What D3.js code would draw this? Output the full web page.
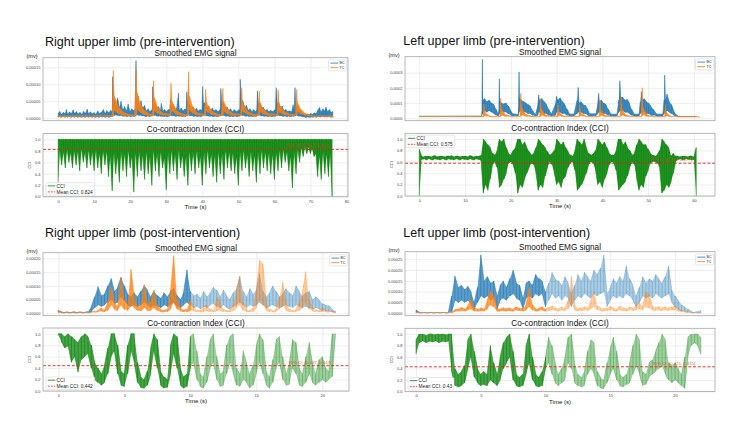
<!DOCTYPE html>
<html>
<head>
<meta charset="utf-8">
<script src="https://cdn.jsdelivr.net/npm/d3@7"></script>
<style>
body { margin: 0; background: #fff; }
svg text { font-family: "Liberation Sans", Arial, sans-serif; }
</style>
</head>
<body>
<div id="chart"></div>
<script>
// EMG amplitudes are in units of 1e-5 mV.
// Pre-intervention series are rows [time, low, high]; post-intervention series are [low, high] bins on a time array.

// ---------- right upper limb, pre-intervention ----------
const bcPreR = [
  [0,0.3,1.5],[0.5,0.4,2.0],[1,0.3,1.2],[1.5,0.4,1.8],[2,0.3,1.4],[2.3,0.4,2.6],[2.7,0.3,1.3],[3.2,0.4,1.9],[3.7,0.3,1.4],
  [4.2,0.4,2.5],[4.6,0.3,1.5],[5.1,0.4,2.0],[5.6,0.3,1.3],[6.1,0.4,1.8],[6.6,0.3,1.2],[7.1,0.4,2.1],[7.6,0.3,1.5],[8.1,0.4,2.7],
  [8.5,0.3,1.4],[9,0.4,1.9],[9.5,0.3,1.3],[10,0.4,1.7],[10.5,0.3,1.2],[11,0.4,2.2],[11.5,0.3,1.4],[12,0.4,1.8],[12.5,0.4,2.6],
  [13,0.3,1.5],[13.5,0.4,2.3],[14,0.3,1.6],[14.5,0.4,2.4],
  [14.9,0.5,2.0],[15.1,0.8,12.2],[15.3,1.0,4.0],[15.7,0.8,5.8],[16.1,1.0,3.5],[16.5,0.8,6.0],[17,0.7,3.0],[17.4,0.8,5.0],
  [17.9,0.6,2.5],[18.4,0.6,3.5],[18.9,0.5,2.2],[19.4,0.6,4.2],[19.9,0.5,2.0],[20.4,0.5,2.8],[21,0.5,2.2],
  [21.4,0.6,3.0],[21.6,0.9,17.0],[21.8,1.0,5.0],[22.2,0.9,6.5],[22.6,0.8,3.5],[23.0,0.8,5.2],[23.5,0.7,3.0],[24,0.6,3.8],
  [24.5,0.5,2.2],[25,0.6,2.8],[25.5,0.5,2.0],
  [26.0,0.6,2.5],[26.2,0.8,9.3],[26.4,0.9,4.0],[26.8,0.8,4.5],[27.3,0.7,3.0],[27.8,0.6,3.5],[28.3,0.6,2.4],[28.6,0.6,4.4],
  [29,0.5,2.2],[29.5,0.5,2.6],[30,0.5,2.0],[30.5,0.5,2.6],
  [30.9,0.6,2.5],[31.1,0.8,5.5],[31.4,0.8,3.5],[31.9,0.7,4.0],[32.4,0.6,2.6],[32.9,0.6,3.0],[33.4,0.6,7.4],[33.7,0.6,2.5],
  [34.2,0.5,3.0],[34.7,0.5,2.2],[35.2,0.5,2.8],
  [35.5,0.6,2.5],[35.7,0.8,7.8],[36.0,0.9,4.5],[36.4,0.8,4.2],[36.9,0.7,3.0],[37.4,0.6,3.4],[37.9,0.6,2.4],[38.4,0.5,3.0],
  [38.9,0.5,2.2],[39.4,0.5,2.6],
  [39.9,0.6,2.5],[40.1,0.8,9.3],[40.4,0.9,4.5],[40.8,0.8,4.5],[41.3,0.7,3.0],[41.8,0.6,3.6],[42.3,0.6,2.4],[42.8,0.5,3.0],
  [43.3,0.5,2.2],[43.8,0.5,2.6],[44.4,0.5,2.0],
  [44.9,0.6,2.6],[45.1,0.8,8.8],[45.4,0.9,4.5],[45.8,0.8,4.6],[46.3,0.7,3.0],[46.8,0.6,3.4],[47.3,0.6,2.4],[47.8,0.5,2.8],
  [48.3,0.5,2.0],[48.8,0.5,2.6],[49.4,0.5,2.0],[49.9,0.5,2.4],
  [50.3,0.6,2.5],[50.5,0.8,11.5],[50.8,0.9,5.0],[51.2,0.8,5.2],[51.7,0.7,3.2],[52.2,0.6,3.8],[52.7,0.6,2.4],[53.2,0.5,2.8],
  [53.7,0.5,2.0],[54.2,0.5,2.6],[54.7,0.5,2.0],
  [55.1,0.6,2.6],[55.3,0.8,8.0],[55.6,0.9,4.2],[56,0.8,4.6],[56.5,0.7,3.0],[57,0.6,3.2],[57.5,0.6,2.3],[58,0.5,2.6],
  [58.5,0.5,2.0],[59,0.5,2.4],[59.6,0.5,2.0],[60.1,0.5,2.5],
  [60.3,0.6,2.6],[60.5,0.8,9.0],[60.8,0.9,4.5],[61.2,0.8,4.8],[61.7,0.7,3.0],[62.2,0.6,3.6],[62.7,0.6,2.3],[63.2,0.5,2.6],
  [63.7,0.5,2.0],[64.2,0.5,2.2],[64.8,0.5,2.0],[65.2,0.6,4.0],
  [65.5,0.6,2.5],[65.7,0.8,9.0],[66.0,0.9,4.0],[66.5,0.7,3.5],[67,0.6,2.5],[67.5,0.5,1.8],[68,0.4,1.5],[68.5,0.3,1.2],
  [69,0.3,1.3],[69.5,0.3,1.1],[70,0.3,1.4],[70.5,0.3,1.2],[71,0.4,1.6],[71.5,0.3,1.4],[72,0.4,2.4],[72.5,0.4,3.2],
  [73,0.4,2.0],[73.5,0.5,2.8],[74,0.4,2.2],[74.3,0.4,3.3],[74.8,0.4,2.0],[75.3,0.4,2.6],[75.8,0.3,1.8],[76.2,0.3,2.0]];
const tcPreR = [
  [0,0.4,0.7],[14.9,0.5,0.8],[15.3,0.6,14.0],[15.5,2.5,7.0],[16.0,2.0,5.5],[16.5,1.5,4.0],[17.0,1.2,3.0],[17.7,1.0,2.2],
  [18.5,0.8,1.6],[19.5,0.7,1.2],[21.2,0.7,1.0],
  [21.7,0.8,14.5],[21.9,2.8,7.5],[22.4,2.2,5.8],[22.9,1.6,4.2],[23.4,1.3,3.0],[24.1,1.0,2.2],[25,0.8,1.5],[26.1,0.8,1.2],
  [26.5,0.9,11.0],[26.7,2.5,6.0],[27.2,1.8,4.5],[27.7,1.4,3.2],[28.3,1.1,2.2],[29.2,0.9,1.5],[30.9,0.8,1.2],
  [31.3,0.9,10.3],[31.5,2.4,5.5],[32,1.8,4.2],[32.5,1.3,3.0],[33.2,1.0,2.0],[34.2,0.8,1.4],[35.8,0.8,1.2],
  [36.2,0.9,13.7],[36.4,2.6,6.5],[36.9,2.0,4.8],[37.4,1.5,3.4],[38.1,1.1,2.3],[39,0.9,1.5],[40.5,0.8,1.2],
  [40.9,0.9,8.5],[41.1,2.2,5.0],[41.6,1.7,3.8],[42.2,1.3,2.8],[42.9,1.0,1.9],[44,0.8,1.3],[45.3,0.8,1.2],
  [45.7,0.9,8.8],[45.9,2.2,5.0],[46.4,1.7,3.8],[47,1.3,2.7],[47.7,1.0,1.9],[48.8,0.8,1.3],[50.5,0.8,1.2],
  [50.9,0.9,9.0],[51.1,2.2,5.0],[51.6,1.7,3.8],[52.2,1.3,2.7],[52.9,1.0,1.8],[54,0.8,1.3],[55.4,0.8,1.2],
  [55.8,0.9,8.0],[56,2.0,4.6],[56.5,1.6,3.5],[57.1,1.2,2.6],[57.8,1.0,1.8],[58.9,0.8,1.3],[60.6,0.8,1.2],
  [61,0.9,8.3],[61.2,2.0,4.8],[61.7,1.6,3.6],[62.3,1.2,2.6],[63,1.0,1.8],[64.1,0.8,1.3],[65.8,0.8,1.2],
  [66.2,0.9,8.5],[66.4,2.0,4.6],[66.9,1.6,3.5],[67.5,1.2,2.5],[68.2,1.0,1.7],[69.3,0.7,1.1],[70.5,0.5,0.8],
  [76,0.5,0.8],[76.3,0.3,0.6]];
const cciPreR = [
  [0,0.25,1],[0.5,0.8,1],[1,0.55,1],[1.5,0.78,1],[2,0.5,1],[2.5,0.82,1],[3,0.6,1],[3.5,0.76,1],[4,0.5,1],[4.5,0.8,1],
  [5,0.55,1],[5.5,0.79,1],[6,0.45,1],[6.5,0.83,1],[7,0.6,1],[7.5,0.77,1],[8,0.5,1],[8.5,0.8,1],[9,0.55,1],[9.5,0.78,1],
  [10,0.45,1],[10.5,0.81,1],[11,0.5,1],[11.5,0.75,1],[12,0.4,1],[12.5,0.8,1],[13,0.55,1],[13.5,0.78,1],[14,0.35,1],[14.5,0.72,1],
  [15,0.1,1],[15.5,0.76,1],[16,0.4,1],[16.5,0.7,1],[17,0.25,1],[17.5,0.78,1],[18,0.45,1],[18.5,0.74,1],[19,0.35,1],[19.5,0.8,1],
  [20,0.5,1],[20.5,0.7,1],[21,0.08,1],[21.5,0.76,1],[22,0.35,1],[22.5,0.79,1],[23,0.45,1],[23.5,0.72,1],[24,0.3,1],[24.5,0.78,1],
  [25,0.4,1],[25.5,0.7,1],[26,0.2,1],[26.5,0.8,1],[27,0.45,1],[27.5,0.75,1],[28,0.35,1],[28.5,0.78,1],[29,0.5,1],[29.5,0.68,1],
  [30,0.12,1],[30.5,0.76,1],[31,0.4,1],[31.5,0.8,1],[32,0.45,1],[32.5,0.74,1],[33,0.3,1],[33.5,0.8,1],[34,0.5,1],[34.5,0.72,1],
  [35,0.35,1],[35.5,0.7,1],[36,0.2,1],[36.5,0.78,1],[37,0.45,1],[37.5,0.76,1],[38,0.4,1],[38.5,0.8,1],[39,0.5,1],[39.5,0.7,1],
  [40,0.2,1],[40.5,0.77,1],[41,0.4,1],[41.5,0.8,1],[42,0.5,1],[42.5,0.74,1],[43,0.35,1],[43.5,0.72,1],[44,0.25,1],[44.5,0.78,1],
  [45,0.4,1],[45.5,0.74,1],[46,0.3,1],[46.5,0.8,1],[47,0.5,1],[47.5,0.78,1],[48,0.45,1],[48.5,0.76,1],[49,0.4,1],[49.5,0.7,1],
  [50,0.2,1],[50.5,0.78,1],[51,0.45,1],[51.5,0.8,1],[52,0.5,1],[52.5,0.74,1],[53,0.35,1],[53.5,0.79,1],[54,0.45,1],[54.5,0.72,1],
  [55,0.25,1],[55.5,0.77,1],[56,0.4,1],[56.5,0.8,1],[57,0.5,1],[57.5,0.78,1],[58,0.45,1],[58.5,0.76,1],[59,0.4,1],[59.5,0.74,1],
  [60,0.3,1],[60.5,0.78,1],[61,0.45,1],[61.5,0.8,1],[62,0.5,1],[62.5,0.82,1],[63,0.6,1],[63.5,0.78,1],[64,0.45,1],[64.5,0.7,1],
  [65,0.15,1],[65.5,0.78,1],[66,0.4,1],[66.5,0.82,1],[67,0.6,1],[67.5,0.85,1],[68,0.7,1],[68.5,0.86,1],[69,0.75,1],[69.5,0.86,1],
  [70,0.75,1],[70.5,0.84,1],[71,0.7,1],[71.5,0.75,1],[72,0.35,1],[72.5,0.72,1],[73,0.3,1],[73.5,0.78,1],[74,0.4,1],[74.5,0.74,1],
  [75,0.35,1],[75.5,0.76,1],[76,0,1]];

// ---------- left upper limb, pre-intervention ----------
const bcPreL = [
  [0,1.2,1.4],[13.5,1.2,1.5],[13.7,2,5],[13.8,3,38.7],[13.95,4,12],[14.3,5,13],[14.8,4,11],[15.3,5,12],[15.8,4,10],
  [16.3,3,9],[16.8,2,6],[17.2,1.5,3],
  [17.4,2,6],[17.5,3,26],[17.65,4,11],[18,5,10],[18.5,4,9.5],[19,4,10],[19.5,3,8],[20,2,5],[20.5,1.5,3],[21.5,1.5,2.5],
  [21.7,2,8],[21.8,4,30.5],[21.95,5,13],[22.3,5,12],[22.8,4,11],[23.3,4,10],[23.8,3,9],[24.3,3,8],[24.8,2,5],[25.3,1.5,2.5],
  [25.9,2,9],[26.1,4,15.3],[26.3,4,12],[26.8,4,13],[27.3,3,11],[27.8,3,9],[28.3,2,6],[28.8,1.5,3],
  [29.8,2,10],[30,4,14.5],[30.3,4,12],[30.8,4,13.5],[31.3,3,11],[31.8,3,9],[32.3,2,6],[32.8,1.5,3],[33.8,1.5,3],
  [34.5,3,12],[34.7,4,20.3],[34.9,4,10],[35.3,4,11],[35.8,3,9],[36.3,3,8.5],[36.8,2,6],[37.3,1.5,3],[38.5,1.5,3],
  [39,3,10],[39.2,4,16.4],[39.4,4,11],[39.8,4,12],[40.3,3,10],[40.8,3,9],[41.3,2,6],[41.8,1.5,3],[43.2,1.5,3],
  [43.6,4,12],[43.8,5,24.7],[44.0,5,14],[44.4,5,14],[44.9,4,12],[45.4,4,12.5],[45.9,3,10],[46.4,2,6],[46.9,1.5,3],[48,1.5,3],
  [48.3,3,11],[48.5,4,17.5],[48.7,4,12],[49.1,4,13],[49.6,3,11],[50.1,3,10],[50.6,2,8],[51.1,2,6],[51.8,1.5,3],[53.2,1.5,3],
  [53.5,3,12],[53.6,5,28.4],[53.75,4,12],[54.1,5,16],[54.6,4,11],[55.1,3,9],[55.6,2,5],[56.1,1.5,2.5],[56.5,1.2,1.5],
  [60.5,1.2,1.4]];
const tcPreL = [
  [0,0.9,1.1],[13.9,0.9,1.1],[14.1,1,9.4],[14.3,1.8,4.5],[14.8,1.3,2.5],[15.5,1.0,1.5],[17.6,1.0,1.3],
  [17.8,1.2,13.1],[18,2,6],[18.5,1.5,3.5],[19,1.2,2.2],[20,1,1.4],[22.0,1.0,1.3],
  [22.2,1.3,16.4],[22.4,2.2,7],[22.9,1.6,4],[23.5,1.2,2.3],[24.5,1,1.5],[26.3,1,1.3],
  [26.5,1.2,13],[26.7,2,6],[27.2,1.5,3.5],[27.8,1.2,2],[28.8,1,1.4],[30.1,1,1.3],
  [30.3,1.1,8.8],[30.5,1.8,4.5],[31,1.3,2.5],[31.8,1,1.5],[34.8,1,1.3],
  [35,1.2,9],[35.2,1.8,4.5],[35.7,1.3,2.5],[36.5,1,1.5],[39.3,1,1.3],
  [39.5,1.2,12],[39.7,2,5.5],[40.2,1.4,3],[40.9,1.1,1.8],[41.8,1,1.3],[43.9,1,1.3],
  [44.1,1.3,14.2],[44.3,2.2,6],[44.8,1.5,3.2],[45.5,1.1,1.8],[46.5,1,1.3],[48.5,1,1.3],
  [48.7,1.5,20],[48.9,2.2,7],[49.4,1.5,3.5],[50.1,1.1,1.8],[51,1,1.3],[53.6,1,1.3],
  [53.8,1.2,9],[54,1.6,4],[54.5,1.2,2.2],[55.3,1,1.4],[56.2,0.9,1.1],[61,0.9,1.1],[61.3,0.3,0.6]];
const cciPreL = [
  [0,0,0.82],[0.5,0.64,0.7],[1,0.65,0.69],[1.5,0.63,0.7],[2,0.65,0.7],[2.5,0.64,0.69],[3,0.63,0.7],[3.5,0.65,0.71],
  [4,0.64,0.69],[4.5,0.63,0.7],[5,0.65,0.7],[5.5,0.64,0.69],[6,0.63,0.7],[6.5,0.65,0.7],[7,0.64,0.71],[7.5,0.63,0.69],
  [8,0.65,0.7],[8.5,0.64,0.7],[9,0.63,0.69],[9.5,0.65,0.7],[10,0.64,0.7],[10.5,0.63,0.69],[11,0.65,0.71],[11.5,0.64,0.7],
  [12,0.63,0.69],[12.5,0.65,0.7],[13,0.64,0.7],[13.5,0.62,0.71],
  [14,0.05,1.0],[14.5,0.2,0.95],[15,0.1,0.9],[15.5,0.3,0.85],[16,0.55,0.75],[16.5,0.6,0.72],[17,0.5,0.8],[17.5,0.15,1.0],
  [18,0.2,0.95],[18.5,0.3,1.0],[19,0.4,0.85],[19.5,0.58,0.75],[20,0.6,0.72],[20.5,0.55,0.8],[21,0.4,0.85],[21.5,0.05,1.0],
  [22,0.2,1.0],[22.5,0.15,0.9],[23,0.3,0.95],[23.5,0.4,0.85],[24,0.5,0.78],[24.5,0.58,0.72],[25,0.55,0.75],[25.5,0.4,0.85],
  [26,0.1,1.0],[26.5,0.2,0.95],[27,0.15,0.9],[27.5,0.35,0.85],[28,0.5,0.78],[28.5,0.6,0.72],[29,0.55,0.75],[29.5,0.4,0.8],
  [30,0.2,1.0],[30.5,0.25,0.95],[31,0.15,0.9],[31.5,0.3,0.95],[32,0.35,0.85],[32.5,0.5,0.78],[33,0.58,0.72],[33.5,0.6,0.7],
  [34,0.45,0.8],[34.5,0.1,1.0],[35,0.15,0.95],[35.5,0.2,0.9],[36,0.3,1.0],[36.5,0.4,0.85],[37,0.55,0.75],[37.5,0.6,0.72],
  [38,0.58,0.74],[38.5,0.45,0.8],[39,0.2,1.0],[39.5,0.25,0.95],[40,0.15,0.9],[40.5,0.3,0.95],[41,0.4,0.85],[41.5,0.55,0.75],
  [42,0.6,0.72],[42.5,0.58,0.72],[43,0.45,0.8],[43.5,0.1,1.0],[44,0.15,1.0],[44.5,0.2,0.9],[45,0.25,0.95],[45.5,0.35,0.85],
  [46,0.5,0.8],[46.5,0.6,0.72],[47,0.55,0.75],[47.5,0.3,0.9],[48,0.1,1.0],[48.5,0.2,0.95],[49,0.15,0.9],[49.5,0.35,0.9],
  [50,0.45,0.82],[50.5,0.58,0.75],[51,0.6,0.72],[51.5,0.6,0.7],[52,0.58,0.73],[52.5,0.5,0.8],[53,0.05,1.0],[53.5,0.1,0.95],
  [54,0.2,0.9],[54.5,0.15,0.85],[55,0.25,0.7],[55.5,0.4,0.75],[56,0.6,0.7],[56.5,0.64,0.7],[57,0.65,0.69],[57.5,0.63,0.7],
  [58,0.64,0.7],[58.5,0.65,0.69],[59,0.64,0.7],[59.5,0.63,0.7],[60,0.64,0.69],[60.5,0,0.85]];

// ---------- right upper limb, post-intervention ----------
const tPostR = [0,0.25,0.5,0.75,1,1.25,1.5,1.75,2,2.25,2.5,2.75,3,3.25,3.5,3.75,4,4.25,4.5,4.75,5,5.25,5.5,5.75,
  6,6.25,6.5,6.75,7,7.25,7.5,7.75,8,8.25,8.5,8.75,9,9.25,9.5,9.75,10,10.25,10.5,10.75,11,11.25,11.5,11.75,
  12,12.25,12.5,12.75,13,13.25,13.5,13.75,14,14.25,14.5,14.75,15,15.25,15.5,15.75,16,16.25,16.5,16.75,
  17,17.25,17.5,17.75,18,18.25,18.5,18.75,19,19.25,19.5,19.75,20,20.25,20.5,20.75,21];
const bcPostR = [
  [0.3,1.0],[0.2,0.6],[0.2,0.4],[0.2,0.5],[0.2,0.4],[0.2,0.6],[0.2,0.4],[0.2,0.5],[0.2,0.4],[0.3,0.6],
  [0.5,2.5],[2.0,6.0],[3.0,9.7],[2.5,6.5],[3.0,7.0],[4.0,10.0],[5.0,12.7],[3.5,8.0],[4.0,9.5],[6.0,13.1],
  [4.5,10.0],[3.0,7.0],[2.5,6.0],[3.0,7.5],[2.5,6.0],[3.0,8.0],[4.0,10.0],[3.0,8.5],[2.0,6.0],[3.0,8.0],
  [2.5,6.5],[2.0,5.5],[3.0,7.5],[2.5,6.0],[3.0,8.0],[4.0,9.0],[2.5,6.5],[2.0,5.0],[3.0,8.0],[4.0,15.8],
  [3.0,8.0],[2.0,6.5],[2.5,7.0],[1.5,5.5],[2.5,8.0],[2.0,6.0],[3.0,7.5],[3.5,9.5],[2.5,8.5],[2.0,6.0],
  [3.0,8.5],[2.0,6.5],[1.5,5.0],[2.5,7.5],[3.0,9.0],[4.0,13.5],[3.0,8.0],[2.0,6.0],[3.0,9.0],[2.5,7.0],
  [3.0,8.5],[4.0,14.5],[3.0,8.0],[2.0,6.0],[2.5,7.5],[3.0,10.0],[2.5,8.0],[2.0,6.0],[2.5,7.0],[3.0,9.0],
  [2.5,7.5],[2.0,6.5],[3.0,10.0],[2.5,8.0],[2.0,6.0],[2.5,7.5],[2.0,8.0],[1.5,5.0],[2.0,6.0],[1.5,5.0],
  [1.0,3.5],[1.0,3.0],[0.8,2.8],[0.5,1.5],[0.3,0.8]];
const tcPostR = [
  [0.4,1.0],[0.2,0.4],[0.2,0.4],[0.2,0.4],[0.2,0.4],[0.2,0.4],[0.2,0.4],[0.2,0.4],[0.2,0.4],[0.2,0.4],
  [0.3,0.5],[0.4,0.7],[0.5,1.0],[0.8,2.0],[0.6,1.2],[1.0,4.0],[3.0,9.9],[1.5,4.0],[1.0,2.5],[3.0,13.0],
  [1.5,5.0],[1.0,3.0],[3.0,16.0],[2.0,6.0],[1.0,2.5],[0.8,3.0],[2.0,10.5],[1.0,3.5],[1.0,4.0],[2.0,8.5],
  [1.0,3.0],[0.6,1.5],[0.5,1.0],[0.6,1.5],[1.5,8.0],[4.0,21.0],[1.5,5.0],[0.8,2.0],[0.6,1.2],[0.6,1.5],
  [1.0,5.0],[0.8,2.5],[0.6,1.2],[0.5,1.0],[0.6,2.5],[0.8,3.0],[0.6,1.5],[0.5,1.0],[0.8,6.0],[1.0,4.0],
  [0.6,1.5],[0.5,1.0],[0.5,1.2],[0.8,3.0],[2.0,8.0],[3.0,13.5],[1.0,4.0],[0.6,1.5],[0.5,1.0],[0.6,2.0],
  [2.0,9.0],[5.0,19.4],[3.0,18.0],[1.0,4.0],[0.6,1.5],[0.5,1.0],[0.6,1.5],[1.5,6.0],[3.0,11.3],[1.0,4.0],
  [0.6,1.5],[0.5,1.0],[0.6,1.5],[1.0,4.0],[2.0,8.0],[4.0,15.2],[1.5,5.0],[0.8,2.0],[0.6,1.2],[0.5,1.0],
  [0.6,2.0],[0.5,1.2],[0.4,0.8],[0.4,0.8],[0.3,0.6]];
const cciPostR = [
  [0.98,1.0],[0.85,1.0],[0.75,0.95],[0.78,1.0],[0.5,0.95],[0.6,0.9],[0.33,0.85],[0.55,0.95],[0.6,1.0],[0.65,0.95],
  [0.4,0.8],[0.2,0.5],[0.15,0.4],[0.1,0.3],[0.15,0.45],[0.3,0.75],[0.6,1.0],[0.7,1.0],[0.3,0.8],[0.1,0.35],
  [0.08,0.3],[0.3,0.8],[0.7,1.0],[0.5,1.0],[0.15,0.5],[0.06,0.25],[0.05,0.2],[0.1,0.35],[0.3,0.75],[0.7,1.0],
  [0.4,0.9],[0.1,0.35],[0.05,0.25],[0.06,0.2],[0.3,0.8],[0.65,1.0],[0.4,0.95],[0.1,0.4],[0.05,0.25],[0.08,0.3],
  [0.4,0.95],[0.5,1.0],[0.2,0.7],[0.08,0.3],[0.05,0.25],[0.15,0.6],[0.4,0.9],[0.5,1.0],[0.2,0.6],[0.08,0.3],
  [0.1,0.35],[0.3,0.8],[0.5,0.95],[0.3,1.0],[0.1,0.4],[0.08,0.3],[0.2,0.7],[0.15,0.5],[0.05,0.3],[0.1,0.45],
  [0.3,0.8],[0.5,1.0],[0.3,0.9],[0.1,0.35],[0.05,0.25],[0.15,0.55],[0.4,0.9],[0.5,0.95],[0.2,0.6],[0.1,0.3],
  [0.12,0.5],[0.4,0.9],[0.3,0.85],[0.1,0.4],[0.08,0.3],[0.15,0.6],[0.3,0.85],[0.15,0.5],[0.1,0.3],[0.15,0.55],
  [0.2,0.6],[0.15,0.4],[0.2,0.35],[0.25,1.0],[1.0,1.0]];

// ---------- left upper limb, post-intervention ----------
const tPostL = [0,0.25,0.5,0.75,1,1.25,1.5,1.75,2,2.25,2.5,2.75,3,3.25,3.5,3.75,4,4.25,4.5,4.75,5,5.25,5.5,5.75,
  6,6.25,6.5,6.75,7,7.25,7.5,7.75,8,8.25,8.5,8.75,9,9.25,9.5,9.75,10,10.25,10.5,10.75,11,11.25,11.5,11.75,
  12,12.25,12.5,12.75,13,13.25,13.5,13.75,14,14.25,14.5,14.75,15,15.25,15.5,15.75,16,16.25,16.5,16.75,
  17,17.25,17.5,17.75,18,18.25,18.5,18.75,19,19.25,19.5,19.75,20,20.25,20.5,20.75,21,21.25,21.5,21.75,22];
const bcPostL = [
  [0.3,1.5],[0.2,0.5],[0.2,0.4],[0.2,0.4],[0.2,0.4],[0.2,0.4],[0.2,0.4],[0.2,0.4],[0.2,0.4],[0.2,0.4],
  [0.2,0.4],[0.5,8.0],[6.0,17.3],[5.0,12.0],[6.0,13.0],[5.0,11.0],[6.0,12.5],[4.0,10.0],[1.5,5.0],[5.0,12.0],
  [8.0,27.0],[7.0,15.0],[8.0,17.0],[6.0,14.0],[7.0,15.0],[2.0,8.0],[6.0,13.0],[7.0,15.0],[6.0,12.0],[8.0,16.0],
  [9.0,20.0],[7.0,14.0],[6.0,13.0],[2.0,7.0],[7.0,14.0],[8.0,15.0],[7.0,13.0],[9.0,18.0],[8.0,16.0],[9.0,15.0],
  [3.0,10.0],[6.0,14.0],[9.0,19.0],[7.0,16.0],[8.0,15.0],[6.0,13.0],[8.0,17.0],[7.0,14.0],[3.0,9.0],[6.0,13.0],
  [8.0,18.0],[7.0,15.0],[9.0,19.0],[8.0,17.0],[7.0,15.0],[9.0,20.0],[8.0,18.0],[9.0,21.0],[10.0,27.0],[3.0,9.0],
  [6.0,12.0],[8.0,16.0],[7.0,14.0],[8.0,17.0],[7.0,15.0],[9.0,22.0],[8.0,16.0],[6.0,13.0],[3.0,8.0],[5.0,12.0],
  [8.0,17.0],[7.0,14.0],[8.0,16.0],[7.0,15.0],[9.0,18.0],[8.0,16.0],[7.0,14.0],[8.0,17.0],[9.0,22.0],[5.0,11.0],
  [3.0,8.0],[2.0,6.0],[1.0,4.0],[1.0,3.0],[0.5,2.0],[0.3,1.0],[0.2,0.5],[0.2,0.8],[0.3,1.5]];
const tcPostL = [
  [0.2,0.4],[0.2,0.3],[0.2,0.3],[0.2,0.3],[0.2,0.3],[0.2,0.3],[0.2,0.3],[0.2,0.3],[0.2,0.3],[0.2,0.3],
  [0.2,0.3],[0.3,0.8],[0.8,1.8],[1.0,2.0],[1.2,2.8],[1.0,2.0],[1.5,3.5],[2.0,6.5],[1.0,2.5],[1.0,2.0],
  [1.2,2.5],[1.0,2.0],[2.0,6.0],[4.0,10.5],[3.0,8.0],[1.0,2.5],[1.0,2.0],[1.2,2.6],[1.0,2.2],[1.2,2.5],
  [1.0,2.0],[1.5,3.0],[1.2,2.4],[1.0,2.0],[1.5,4.0],[3.0,12.0],[1.5,4.0],[1.0,2.0],[1.2,2.5],[1.5,3.0],
  [1.0,2.0],[1.2,2.8],[1.5,3.5],[1.2,2.6],[1.0,2.2],[1.5,3.0],[1.2,2.5],[2.0,6.0],[5.0,17.3],[1.5,4.0],
  [1.0,2.2],[1.2,2.6],[1.5,3.0],[1.2,2.5],[2.0,6.0],[3.0,10.0],[1.5,3.5],[1.2,2.5],[1.0,2.2],[1.2,2.5],
  [1.5,3.2],[1.2,2.5],[1.0,2.0],[1.5,3.5],[1.2,2.6],[1.0,2.2],[1.5,3.0],[1.2,2.5],[1.5,3.5],[2.0,5.0],
  [1.5,3.2],[3.0,10.0],[2.5,9.0],[1.5,3.5],[1.2,2.6],[1.5,3.2],[1.2,2.6],[1.5,3.0],[1.2,2.4],[1.5,3.0],
  [1.5,3.5],[1.0,2.2],[0.8,1.5],[0.5,1.0],[0.4,0.8],[0.3,0.5],[0.2,0.4],[0.2,0.4],[0.2,0.4]];
const cciPostL = [
  [0.65,0.9],[0.85,1.0],[0.88,1.0],[0.85,0.98],[0.87,1.0],[0.86,1.0],[0.88,0.99],[0.85,1.0],[0.87,1.0],[0.86,0.99],
  [0.88,1.0],[0.35,1.0],[0.1,0.4],[0.08,0.3],[0.1,0.35],[0.15,0.45],[0.4,0.9],[0.6,1.0],[0.25,0.7],[0.15,0.4],
  [0.1,0.3],[0.12,0.35],[0.1,0.3],[0.2,0.8],[0.15,0.5],[0.1,0.3],[0.2,0.6],[0.4,0.85],[0.5,0.95],[0.6,1.0],
  [0.2,0.7],[0.1,0.3],[0.08,0.25],[0.1,0.3],[0.3,0.8],[0.5,1.0],[0.2,0.6],[0.1,0.3],[0.08,0.25],[0.1,0.35],
  [0.4,0.6],[0.5,0.95],[0.3,0.8],[0.15,0.5],[0.1,0.3],[0.15,0.4],[0.2,0.6],[0.5,0.95],[0.4,1.0],[0.15,0.5],
  [0.1,0.3],[0.08,0.25],[0.1,0.35],[0.3,0.7],[0.4,0.9],[0.3,0.85],[0.1,0.35],[0.06,0.25],[0.05,0.2],[0.15,0.5],
  [0.3,0.75],[0.4,0.95],[0.2,0.7],[0.1,0.3],[0.08,0.25],[0.12,0.3],[0.15,0.5],[0.3,0.8],[0.45,1.0],[0.3,0.9],
  [0.1,0.35],[0.12,0.3],[0.25,0.5],[0.3,0.55],[0.35,0.7],[0.4,0.85],[0.45,1.0],[0.3,0.9],[0.2,0.5],[0.15,0.45],
  [0.2,0.5],[0.15,0.4],[0.1,0.3],[0.05,0.6],[0.6,0.95],[0.8,1.0],[0.85,1.0],[0.8,1.0],[0.65,0.95]];

// ---------- ticks, labels, summary values ----------
const panelTitles = ["Right upper limb (pre-intervention)", "Left upper limb (pre-intervention)",
  "Right upper limb (post-intervention)", "Left upper limb (post-intervention)"];
const emgSeries = ["BC", "TC"];
const xTicksPreR = [0, 10, 20, 30, 40, 50, 60, 70, 80];
const xTicksPreL = [0, 10, 20, 30, 40, 50, 60];
const xTicksPost = [0, 5, 10, 15, 20];
const emgTicksPreR = [0, 5, 10, 15];
const emgLabelsPreR = ["0.00000", "0.00005", "0.00010", "0.00015"];
const emgTicksPreL = [0, 10, 20, 30];
const emgLabelsPreL = ["0.0000", "0.0001", "0.0002", "0.0003"];
const emgTicksPostR = [0, 5, 10, 15, 20];
const emgLabelsPostR = ["0.00000", "0.00005", "0.00010", "0.00015", "0.00020"];
const emgTicksPostL = [0, 5, 10, 15, 20, 25];
const emgLabelsPostL = ["0.00000", "0.00005", "0.00010", "0.00015", "0.00020", "0.00025"];
const cciTicks = [0, 0.2, 0.4, 0.6, 0.8, 1.0];
const meanCci = [0.824, 0.575, 0.442, 0.43];
const ciLabels = ["95% CI: [0.822, 0.826]", "95% CI: [0.573, 0.577]", "95% CI: [0.437, 0.447]", "95% CI: [0.425, 0.435]"];

const colors = { BC: "#1f77b4", TC: "#ff7f0e", CCI: "#008000", mean: "#e8201a" };

// binned series on a time array -> rows [t, low, high]
const zipRows = (times, bins) => bins.map((b, i) => [times[i], b[0], b[1]]);

const panels = [
  { left: 43, right: 348, emgTop: 57.7, emgBottom: 120.7, cciTop: 133.6, cciBottom: 196.7, titleX: 45, titleY: 45.5,
    xDomain: [-4.2, 80.4], emgDomain: [-0.71, 17.82], xTicks: xTicksPreR,
    emgTicks: emgTicksPreR, emgLabels: emgLabelsPreR, bc: bcPreR, tc: tcPreR, cci: cciPreR,
    legendAtTop: false, lightFrom: null, fill: 0.85 },
  { left: 405, right: 715, emgTop: 56.7, emgBottom: 120.7, cciTop: 133.3, cciBottom: 196, titleX: 403.3, titleY: 44.5,
    xDomain: [-3.12, 64.6], emgDomain: [-1.58, 40.5], xTicks: xTicksPreL,
    emgTicks: emgTicksPreL, emgLabels: emgLabelsPreL, bc: bcPreL, tc: tcPreL, cci: cciPreL,
    legendAtTop: true, lightFrom: null, fill: 0.85 },
  { left: 43, right: 349, emgTop: 252.7, emgBottom: 315.7, cciTop: 328, cciBottom: 391, titleX: 45, titleY: 237.3,
    xDomain: [-1.16, 22.02], emgDomain: [-0.87, 22.04], xTicks: xTicksPost,
    emgTicks: emgTicksPostR, emgLabels: emgLabelsPostR,
    bc: zipRows(tPostR, bcPostR), tc: zipRows(tPostR, tcPostR), cci: zipRows(tPostR, cciPostR),
    legendAtTop: false, lightFrom: 10, fill: 0.72 },
  { left: 405, right: 715, emgTop: 251.7, emgBottom: 315.7, cciTop: 328.3, cciBottom: 391.5, titleX: 403.3, titleY: 236.7,
    xDomain: [-0.85, 23.09], emgDomain: [-1.11, 28.5], xTicks: xTicksPost,
    emgTicks: emgTicksPostL, emgLabels: emgLabelsPostL,
    bc: zipRows(tPostL, bcPostL), tc: zipRows(tPostL, tcPostL), cci: zipRows(tPostL, cciPostL),
    legendAtTop: false, lightFrom: 10, fill: 0.72 }
];

const svg = d3.select("#chart").append("svg").attr("width", 750).attr("height", 422);
const defs = svg.append("defs");

function gridAndTicks(g, x, y, top, bottom, xTicks, yTicks, yLabels, showX) {
  g.append("g")
    .attr("transform", `translate(0,${bottom})`)
    .call(d3.axisBottom(x).tickValues(xTicks).tickSize(-(bottom - top)).tickPadding(3)
      .tickFormat(d => showX ? d : ""))
    .call(a => a.select(".domain").remove())
    .call(a => a.selectAll("line").attr("stroke", "#e3e3e3").attr("stroke-width", 0.6))
    .call(a => a.selectAll("text").attr("font-size", 4).attr("fill", "#444").attr("font-family", "Liberation Sans, Arial, sans-serif"));
  g.append("g")
    .attr("transform", `translate(${x.range()[0]},0)`)
    .call(d3.axisLeft(y).tickValues(yTicks).tickSize(-(x.range()[1] - x.range()[0])).tickPadding(2.5)
      .tickFormat((d, i) => yLabels[i]))
    .call(a => a.select(".domain").remove())
    .call(a => a.selectAll("line").attr("stroke", "#e3e3e3").attr("stroke-width", 0.6))
    .call(a => a.selectAll("text").attr("font-size", 4).attr("fill", "#444").attr("font-family", "Liberation Sans, Arial, sans-serif"));
}

// dense signal: filled low/high envelope plus a zigzag trace through the samples
function drawSeries(layer, x, y, rows, color, lightFrom, fill) {
  let parts = [{ rows: rows, op: 1 }];
  if (lightFrom != null) {
    const k = rows.findIndex(r => r[0] >= lightFrom);
    if (k > 0) parts = [{ rows: rows.slice(0, k + 1), op: 1 }, { rows: rows.slice(k), op: 0.5 }];
  }
  parts.forEach(part => {
    layer.append("path")
      .datum(part.rows)
      .attr("d", d3.area().x(d => x(d[0])).y0(d => y(d[1])).y1(d => y(d[2])))
      .attr("fill", color)
      .attr("opacity", part.op < 1 ? 0.38 : fill);
    const pts = part.rows.flatMap((r, i) => i % 2 ? [[r[0], r[2]], [r[0], r[1]]] : [[r[0], r[1]], [r[0], r[2]]]);
    layer.append("path")
      .datum(pts)
      .attr("d", d3.line().x(d => x(d[0])).y(d => y(d[1])))
      .attr("fill", "none")
      .attr("stroke", color)
      .attr("stroke-width", 0.55)
      .attr("stroke-opacity", part.op);
  });
}

function legend(g, x0, y0, entries, fontSize, lineLen) {
  const lg = g.append("g");
  const box = lg.append("rect").attr("fill", "#fff").attr("fill-opacity", 0.85)
    .attr("stroke", "#d0d0d0").attr("stroke-width", 0.5).attr("rx", 1);
  const step = fontSize * 1.25;
  let maxW = 0;
  entries.forEach((e, i) => {
    const cy = y0 + 3.2 + i * step;
    lg.append("line").attr("x1", x0 + 1.8).attr("x2", x0 + 1.8 + lineLen).attr("y1", cy).attr("y2", cy)
      .attr("stroke", e.color).attr("stroke-width", 0.8).attr("stroke-dasharray", e.dash || null);
    const t = lg.append("text").attr("x", x0 + 3 + lineLen).attr("y", cy).attr("dy", "0.35em")
      .attr("font-size", fontSize).attr("fill", "#222").text(e.label);
    maxW = Math.max(maxW, t.node().getComputedTextLength());
  });
  box.attr("x", x0).attr("y", y0).attr("width", maxW + lineLen + 5)
    .attr("height", 3.2 + (entries.length - 1) * step + 3.2);
  return lg;
}

panels.forEach((p, k) => {
  const g = svg.append("g");
  const x = d3.scaleLinear().domain(p.xDomain).range([p.left, p.right]);
  const yE = d3.scaleLinear().domain(p.emgDomain).range([p.emgBottom, p.emgTop]);
  const yC = d3.scaleLinear().domain([0, 1.1]).range([p.cciBottom, p.cciTop]);
  const cx = (p.left + p.right) / 2;

  g.append("text").attr("x", p.titleX).attr("y", p.titleY).attr("font-size", 12.5).attr("fill", "#111")
    .text(panelTitles[k]);

  // ---- EMG subplot ----
  defs.append("clipPath").attr("id", "ce" + k).append("rect")
    .attr("x", p.left).attr("y", p.emgTop).attr("width", p.right - p.left).attr("height", p.emgBottom - p.emgTop);
  gridAndTicks(g, x, yE, p.emgTop, p.emgBottom, p.xTicks, p.emgTicks, p.emgLabels, false);
  const emgLayer = g.append("g").attr("clip-path", `url(#ce${k})`);
  drawSeries(emgLayer, x, yE, p.bc, colors.BC, p.lightFrom, p.fill);
  drawSeries(emgLayer, x, yE, p.tc, colors.TC, p.lightFrom, p.fill);
  g.append("rect").attr("x", p.left).attr("y", p.emgTop).attr("width", p.right - p.left)
    .attr("height", p.emgBottom - p.emgTop).attr("fill", "none").attr("stroke", "#a6a6a6").attr("stroke-width", 0.8);
  g.append("text").attr("x", cx).attr("y", p.emgTop - 2).attr("text-anchor", "middle")
    .attr("font-size", 8.2).attr("fill", "#111").text("Smoothed EMG signal");
  g.append("text").attr("x", p.left - 16.5).attr("y", p.emgTop + 0.5).attr("font-size", 5.5)
    .attr("fill", "#222").text("(mv)");
  const emgLeg = legend(g, 0, p.emgTop + 2.2, emgSeries.map(s => ({ label: s, color: colors[s] })), 3.6, 8);
  const bw = +emgLeg.select("rect").attr("width");
  emgLeg.attr("transform", `translate(${p.right - 1.5 - bw},0)`);

  // ---- CCI subplot ----
  defs.append("clipPath").attr("id", "cc" + k).append("rect")
    .attr("x", p.left).attr("y", p.cciTop).attr("width", p.right - p.left).attr("height", p.cciBottom - p.cciTop);
  gridAndTicks(g, x, yC, p.cciTop, p.cciBottom, p.xTicks, cciTicks, cciTicks.map(d => d.toFixed(1)), true);
  const cciLayer = g.append("g").attr("clip-path", `url(#cc${k})`);
  drawSeries(cciLayer, x, yC, p.cci, colors.CCI, p.lightFrom, p.fill);
  cciLayer.append("line").attr("x1", p.left).attr("x2", p.right)
    .attr("y1", yC(meanCci[k])).attr("y2", yC(meanCci[k]))
    .attr("stroke", colors.mean).attr("stroke-width", 0.9).attr("stroke-dasharray", "3,1.8");
  const tMax = d3.max(p.cci, d => d[0]);
  g.append("text").attr("x", x(tMax * 0.83)).attr("y", yC(meanCci[k]) - 2)
    .attr("font-size", 4.3).attr("fill", colors.mean).attr("fill-opacity", 0.75).text(ciLabels[k]);
  g.append("rect").attr("x", p.left).attr("y", p.cciTop).attr("width", p.right - p.left)
    .attr("height", p.cciBottom - p.cciTop).attr("fill", "none").attr("stroke", "#a6a6a6").attr("stroke-width", 0.8);
  g.append("text").attr("x", cx).attr("y", p.cciTop - 2).attr("text-anchor", "middle")
    .attr("font-size", 8.2).attr("fill", "#111").text("Co-contraction Index (CCI)");
  g.append("text").attr("x", cx).attr("y", p.cciBottom + 12.3).attr("text-anchor", "middle")
    .attr("font-size", 6).attr("fill", "#111").text("Time (s)");
  g.append("text").attr("transform", `translate(${p.left - 12.5},${(p.cciTop + p.cciBottom) / 2}) rotate(-90)`)
    .attr("text-anchor", "middle").attr("font-size", 4).attr("fill", "#333").text("CCI");
  const cciEntries = [
    { label: "CCI", color: colors.CCI },
    { label: "Mean CCI: " + meanCci[k], color: colors.mean, dash: "2,1" }
  ];
  const legTop = p.legendAtTop ? p.cciTop + 1.8 : p.cciBottom - 14;
  legend(g, p.left + (p.legendAtTop ? 1 : 3), legTop, cciEntries, 4.8, 7.5);
});
</script>
</body>
</html>
